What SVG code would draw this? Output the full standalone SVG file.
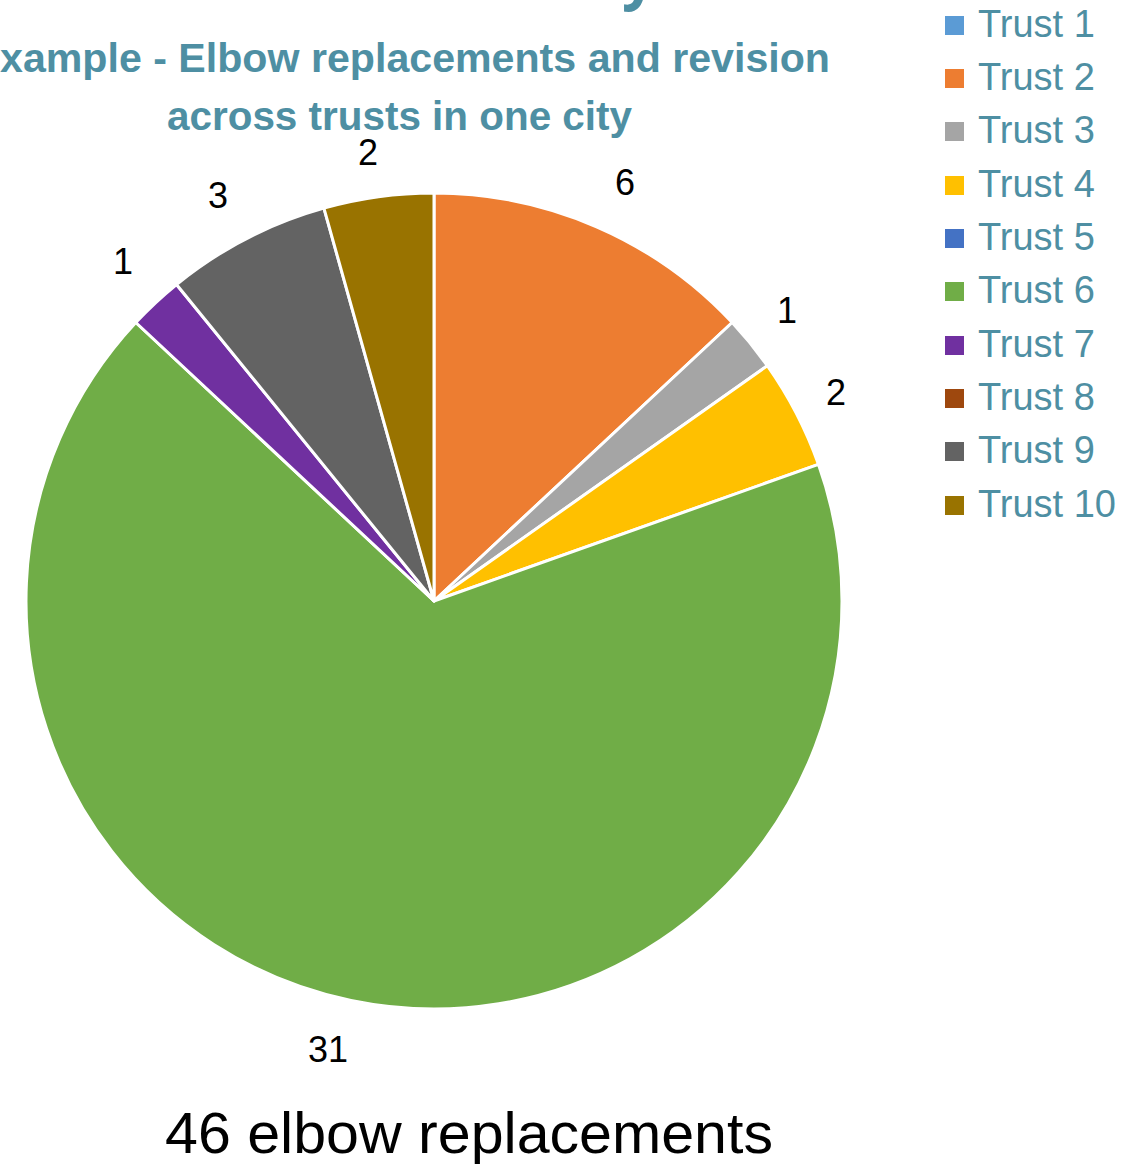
<svg xmlns="http://www.w3.org/2000/svg" width="1145" height="1164" viewBox="0 0 1145 1164">
<style>
.title{font-family:"Liberation Sans",Arial,sans-serif;font-weight:bold;fill:#4E8FA3;}
.leg{font-family:"Liberation Sans",Arial,sans-serif;font-size:38px;fill:#4E8FA3;}
.lbl{font-family:"Liberation Sans",Arial,sans-serif;font-size:36px;fill:#000;text-anchor:middle;}
.slice{stroke:#fff;stroke-width:3;stroke-linejoin:round;}
.foot{font-family:"Liberation Sans",Arial,sans-serif;font-size:58px;fill:#000;}
</style>
<rect width="1145" height="1164" fill="#fff"/>
<g id="title">
<text x="622" y="-3" font-size="60" font-family="'Open Sans',sans-serif" font-weight="bold" fill="#4E8FA3">y</text>
<text class="title" x="0" y="72" font-size="40" textLength="830" lengthAdjust="spacingAndGlyphs">xample - Elbow replacements and revision</text>
<text class="title" x="167" y="130" font-size="40" textLength="465" lengthAdjust="spacingAndGlyphs">across trusts in one city</text>
</g>
<g id="pie">
<g id="slice-trust2"><path class="slice" fill="#ED7D31" d="M434,601 L434,193 A408,408 0 0,1 732.18,322.52 Z"/></g>
<g id="slice-trust3"><path class="slice" fill="#A5A5A5" d="M434,601 L732.18,322.52 A408,408 0 0,1 767.32,365.71 Z"/></g>
<g id="slice-trust4"><path class="slice" fill="#FFC000" d="M434,601 L767.32,365.71 A408,408 0 0,1 818.44,464.37 Z"/></g>
<g id="slice-trust6"><path class="slice" fill="#70AD47" d="M434,601 L818.44,464.37 A408,408 0 1,1 135.82,322.52 Z"/></g>
<g id="slice-trust7"><path class="slice" fill="#7030A0" d="M434,601 L135.82,322.52 A408,408 0 0,1 176.52,284.51 Z"/></g>
<g id="slice-trust9"><path class="slice" fill="#636363" d="M434,601 L176.52,284.51 A408,408 0 0,1 323.92,208.13 Z"/></g>
<g id="slice-trust10"><path class="slice" fill="#997300" d="M434,601 L323.92,208.13 A408,408 0 0,1 434,193 Z"/></g>
</g>
<g id="labels">
<text class="lbl" x="625" y="195">6</text>
<text class="lbl" x="787" y="323">1</text>
<text class="lbl" x="836" y="405">2</text>
<text class="lbl" x="368" y="165">2</text>
<text class="lbl" x="218" y="208">3</text>
<text class="lbl" x="123" y="274">1</text>
<text class="lbl" x="328" y="1062">31</text>
</g>
<g id="connectors"/>
<g id="legend">
<g id="legend-trust1"><rect x="945" y="16" width="19" height="19" fill="#5B9BD5"/><text class="leg" x="978" y="37">Trust 1</text></g>
<g id="legend-trust2"><rect x="945" y="69" width="19" height="19" fill="#ED7D31"/><text class="leg" x="978" y="90">Trust 2</text></g>
<g id="legend-trust3"><rect x="945" y="122" width="19" height="19" fill="#A5A5A5"/><text class="leg" x="978" y="143">Trust 3</text></g>
<g id="legend-trust4"><rect x="945" y="176" width="19" height="19" fill="#FFC000"/><text class="leg" x="978" y="197">Trust 4</text></g>
<g id="legend-trust5"><rect x="945" y="229" width="19" height="19" fill="#4472C4"/><text class="leg" x="978" y="250">Trust 5</text></g>
<g id="legend-trust6"><rect x="945" y="282" width="19" height="19" fill="#70AD47"/><text class="leg" x="978" y="303">Trust 6</text></g>
<g id="legend-trust7"><rect x="945" y="336" width="19" height="19" fill="#7030A0"/><text class="leg" x="978" y="357">Trust 7</text></g>
<g id="legend-trust8"><rect x="945" y="389" width="19" height="19" fill="#9E480E"/><text class="leg" x="978" y="410">Trust 8</text></g>
<g id="legend-trust9"><rect x="945" y="442" width="19" height="19" fill="#636363"/><text class="leg" x="978" y="463">Trust 9</text></g>
<g id="legend-trust10"><rect x="945" y="496" width="19" height="19" fill="#997300"/><text class="leg" x="978" y="517">Trust 10</text></g>
</g>
<text class="foot" x="165" y="1153" textLength="608" lengthAdjust="spacingAndGlyphs">46 elbow replacements</text>
</svg>
